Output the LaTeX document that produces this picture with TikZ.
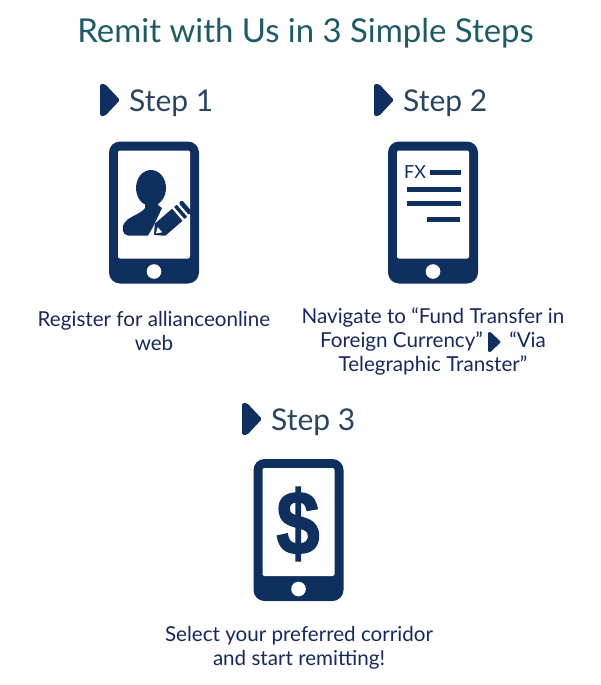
\documentclass[tikz,border=0pt]{standalone}
\usepackage{fontspec}
\setmainfont{Lato}
\newfontfamily\dollarfont{Liberation Sans}[BoldFont=* Bold,BoldFeatures={FakeBold=2}]
\definecolor{navy}{HTML}{0F2F5F}
\definecolor{teal1}{HTML}{1F5B66}
\definecolor{bodyc}{HTML}{16285C}
\definecolor{stepc}{HTML}{2A4562}
\tikzset{
  x=1pt,y=-1pt,
  titletext/.style={font=\fontsize{32.9}{36}\selectfont,text=teal1,inner sep=0},
  steptext/.style={font=\fontsize{30}{36}\selectfont,text=stepc,inner sep=0,anchor=west},
  bodytext/.style={font=\fontsize{20.6}{24}\selectfont,text=bodyc,inner sep=0,align=center},
  pointer/.pic={\fill[navy,rounded corners=1.6pt] (0,-16) -- (5,-16) -- (20,0) -- (5,16) -- (0,16) -- cycle;},
  phone/.pic={
    \fill[navy,rounded corners=11pt] (0,0) rectangle (90,142);
    \fill[white,rounded corners=2pt] (9,9) rectangle (81,117);
    \fill[white] (45,130) circle (7.3);
  },
  fxline/.style={navy,line width=5pt}
}
\begin{document}
\begin{tikzpicture}
\useasboundingbox (0,0) rectangle (600,685);
\node[titletext] (title) at (305.5,33) {Remit with Us in 3 Simple Steps};

% Step 1
\pic at (100,100) {pointer};
\node[steptext] (s1) at (129,103) {Step 1};
\pic at (109,141.5) {phone};
\fill[navy] (151,188) ellipse (15 and 18);
\fill[navy] (145,200) -- (157,200) -- (158,205) -- (162,208) -- (153,227) -- (148,235.5)
  -- (128,235.5) .. controls (122,235.5) and (121,226) .. (125,222)
  .. controls (130,216) and (141,214) .. (145,208) -- cycle;
\begin{scope}[shift={(154,235)},rotate=41]
  \fill[navy,rounded corners=0.6pt] (8,-8) -- (33,-8) -- (33,8) -- (8,8) -- (0,0) -- cycle;
  \fill[white] (2.5,0) -- (8,-3.5) -- (8,3.5) -- cycle;
  \fill[white] (31,-9) rectangle (33.5,9);
  \fill[white] (37,-9) rectangle (39.5,9);
  \fill[navy,rounded corners=0.6pt] (33.5,-8) rectangle (37,8);
  \fill[navy,rounded corners=1.5pt] (39.5,-8) rectangle (44,8);
\end{scope}
\node[bodytext] (t1) at (154,331) {Register for allianceonline\\web};

% Step 2
\pic at (374,100) {pointer};
\node[steptext] (s2) at (403,103) {Step 2};
\pic at (388,141.5) {phone};
\node[font=\fontsize{18}{20}\selectfont,text=navy,inner sep=0] (fx) at (415,172) {FX};
\draw[fxline] (430,172) -- (461,172);
\draw[fxline] (407,189) -- (461,189);
\draw[fxline] (407,203) -- (461,203);
\draw[fxline] (427,219) -- (460,219);
\node[bodytext] (t2) at (433,342) {Navigate to “Fund Transfer in\\Foreign Currency”\hspace{21pt} “Via\\Telegraphic Transter”};
\fill[navy,rounded corners=1pt] (488,332) -- (490.5,332) -- (501,342) -- (490.5,352) -- (488,352) -- cycle;

% Step 3
\pic at (242,419) {pointer};
\node[steptext] (s3) at (271,422) {Step 3};
\pic at (253.5,459) {phone};
\node[text=navy,inner sep=0,font=\dollarfont\bfseries\fontsize{90}{90}\selectfont] (dollar) at (298,524) {\scalebox{.86}[1]{\$}};
\node[bodytext] (t3) at (299,648) {Select your preferred corridor\\and start remitting!};
\end{tikzpicture}
\end{document}
